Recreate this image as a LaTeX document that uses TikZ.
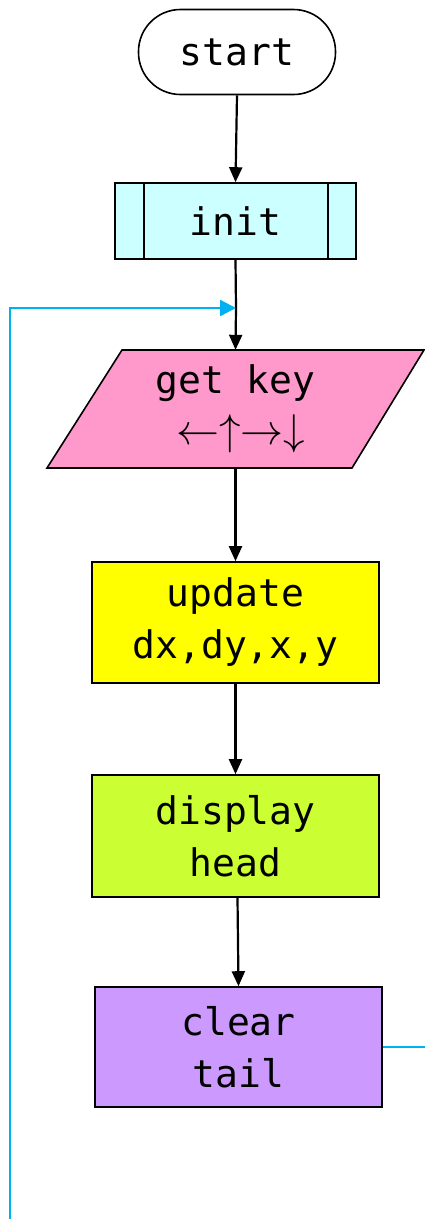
\documentclass[tikz,border=0pt]{standalone}
\usepackage{fontspec}
\usepackage{graphicx}
\usetikzlibrary{arrows.meta,calc}
\newfontfamily\codefont{DejaVu Sans Mono}
\definecolor{initfill}{HTML}{CCFFFF}
\definecolor{keyfill}{HTML}{FF99CC}
\definecolor{updfill}{HTML}{FFFF00}
\definecolor{dispfill}{HTML}{CCFF33}
\definecolor{clrfill}{HTML}{CC99FF}
\definecolor{loopblue}{HTML}{00B0F0}
\newcommand{\keyarrows}{{\normalsize\scalebox{4.3}{$\leftarrow\uparrow\rightarrow\downarrow$}}}
\tikzset{
  x=1pt, y=-1pt,
  txt/.style={font=\codefont\fontsize{38}{52}\selectfont, align=center, inner sep=0pt},
  box/.style={txt, draw=black, line width=1.6pt, rectangle},
  flow/.style={draw=black, line width=2.2pt, -{Triangle[length=15pt,width=13pt]}},
  loop/.style={draw=loopblue, line width=2.4pt, -{Triangle[length=16pt,width=16pt]}}
}
\begin{document}
\begin{tikzpicture}
\useasboundingbox (0,0) rectangle (425,1219);
\clip (0,0) rectangle (425,1219);

% terminator
\node[box, rounded corners=42pt, minimum width=197pt, minimum height=85pt] (start) at (237,52) {start};

% predefined process
\node[box, fill=initfill, minimum width=241pt, minimum height=76pt] (init) at (235.5,221) {init};
\draw[line width=1.6pt] ($(init.north west)+(30,0)$) -- ($(init.south west)+(30,0)$);
\draw[line width=1.6pt] ($(init.north east)+(-29,0)$) -- ($(init.south east)+(-29,0)$);

% input: parallelogram drawn behind a rectangular frame node
\path (235.5,409) coordinate (keyc);
\draw[line width=1.6pt, fill=keyfill]
  ($(keyc)+(-113.5,-59)$) -- ($(keyc)+(188.5,-59)$) -- ($(keyc)+(116.5,59)$) -- ($(keyc)+(-188.5,59)$) -- cycle;
\node[txt, font=\codefont\fontsize{38}{46}\selectfont, minimum width=377pt, minimum height=118pt] (key) at (keyc)
  {get key\\[5pt]\hspace*{10pt}\keyarrows};

% processes
\node[box, fill=updfill, minimum width=287pt, minimum height=121pt] (upd) at (235.5,622.5) {update\\dx,dy,x,y};
\node[box, fill=dispfill, minimum width=287pt, minimum height=122pt] (disp) at (235.5,836) {display\\head};
\node[box, fill=clrfill, minimum width=287pt, minimum height=120pt] (clr) at (238.5,1047) {clear\\tail};

% main flow
\coordinate (join) at (236,308);
\draw[flow] (start.south) -- (init.north);
\draw[line width=2.2pt] (init.south) -- (join);
\draw[flow] (join) -- (key.north);
\draw[flow] (key.south) -- (upd.north);
\draw[flow] (upd.south) -- (disp.north);
\draw[flow] ($(disp.south)+(2,0)$) -- (clr.north);

% loop back to the input
\coordinate (loopR) at (470,1047);
\coordinate (loopB) at (470,1260);
\coordinate (loopL) at (10,1260);
\coordinate (loopT) at (10,308);
\draw[loop] (clr.east) -- (loopR) -- (loopB) -- (loopL) -- (loopT) -- (join);
\end{tikzpicture}
\end{document}
